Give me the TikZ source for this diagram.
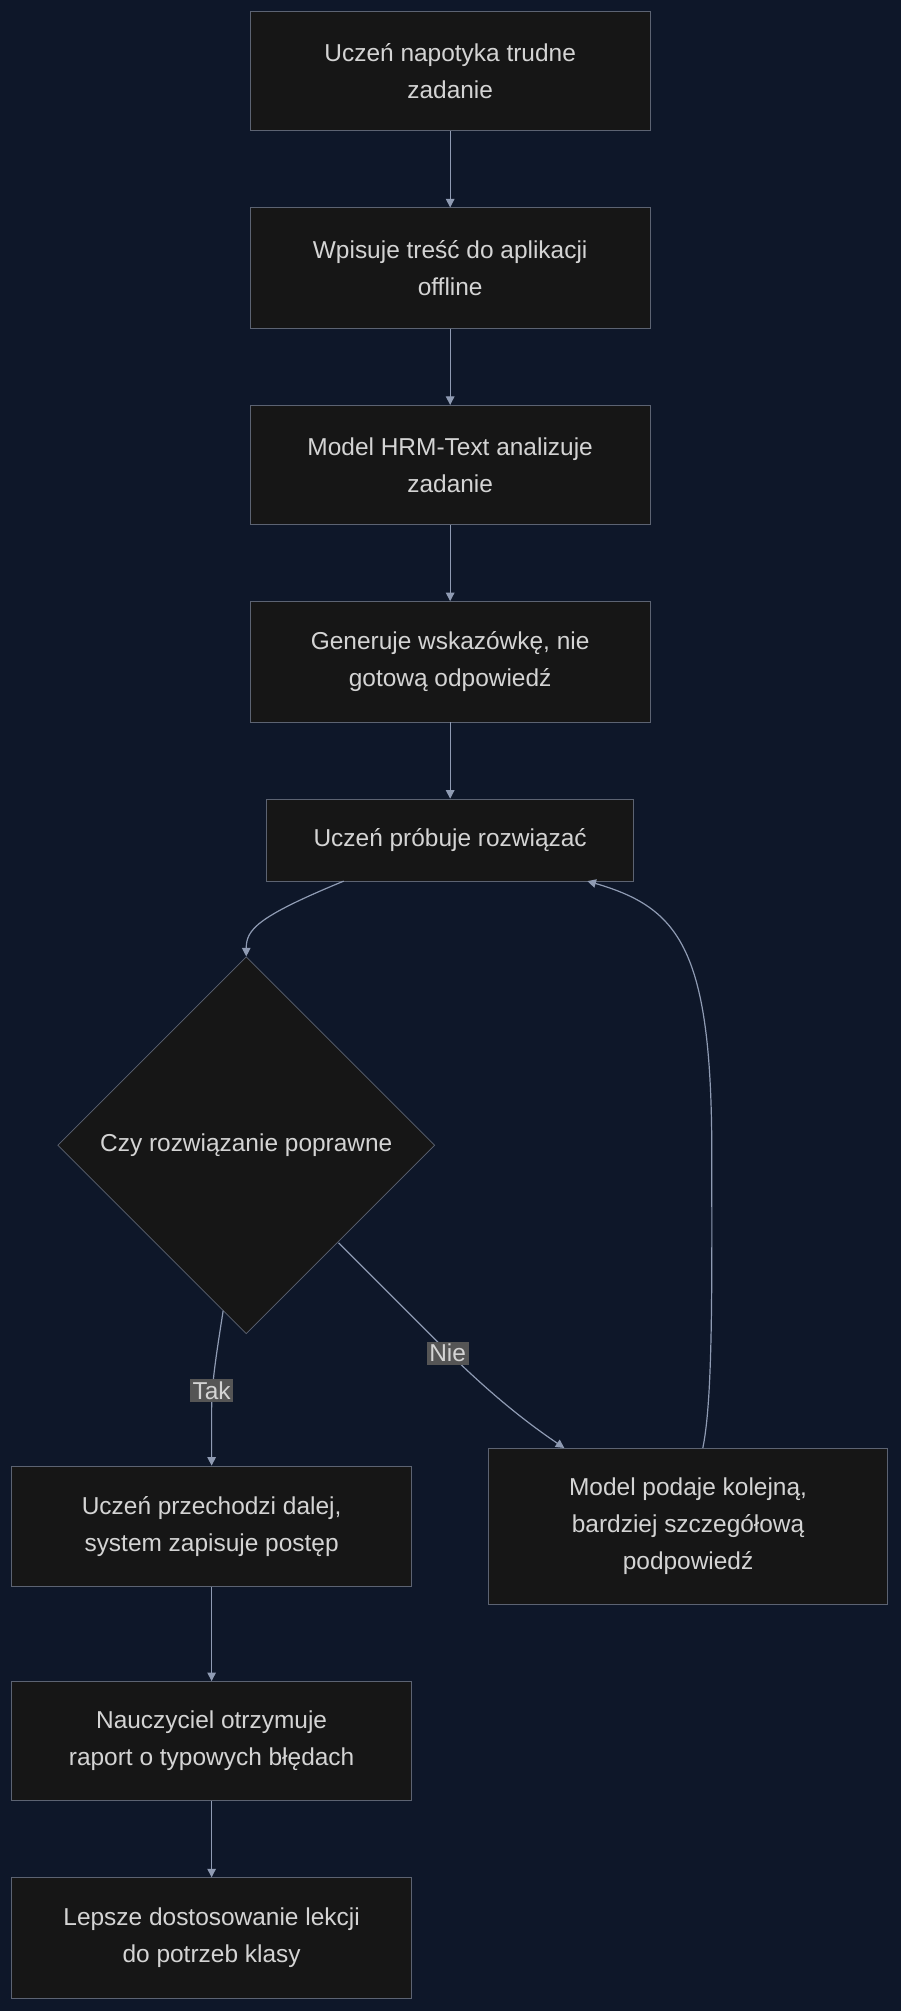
\documentclass[tikz,border=0pt]{standalone}
\usepackage{fontspec}
\setmainfont{Liberation Sans}
\usetikzlibrary{shapes.geometric,arrows.meta}
\definecolor{bg}{HTML}{0E1729}
\definecolor{boxfill}{HTML}{161616}
\definecolor{boxline}{HTML}{5C6372}
\definecolor{txt}{HTML}{D4D4D4}
\definecolor{arr}{HTML}{8F9BB3}
\definecolor{lbl}{HTML}{555555}
\begin{document}
\begin{tikzpicture}[x=0.75pt,y=-0.75pt,
  box/.style={draw=boxline,fill=boxfill,text=txt,font=\fontsize{14.3}{21.5}\selectfont,align=center,minimum width=312*0.75pt,inner sep=0pt},
  dia/.style={draw=boxline,fill=boxfill,text=txt,font=\fontsize{14.3}{21.5}\selectfont,diamond,minimum width=294*0.75pt,minimum height=294*0.75pt,inner sep=0pt},
  ar/.style={draw=arr,line width=0.7pt,-{Triangle[length=5pt,width=5pt]}},
  lab/.style={fill=lbl,text=txt,font=\fontsize{14.3}{16}\selectfont,inner sep=1.5pt}]
\useasboundingbox (0,0) rectangle (702,1568);
\fill[bg] (-5,-5) rectangle (707,1573);
\node[box,minimum height=93*0.75pt] (a) at (351,55.5) {Uczeń napotyka trudne\\zadanie};
\node[box,minimum height=94*0.75pt] (b) at (351,209) {Wpisuje treść do aplikacji\\offline};
\node[box,minimum height=93*0.75pt] (c) at (351,362.5) {Model HRM-Text analizuje\\zadanie};
\node[box,minimum height=94*0.75pt] (d) at (351,516) {Generuje wskazówkę, nie\\gotową odpowiedź};
\node[box,minimum width=286*0.75pt,minimum height=64*0.75pt] (e) at (351,655) {Uczeń próbuje rozwiązać};
\node[dia] (f) at (192,893) {Czy rozwiązanie poprawne};
\node[box,minimum height=94*0.75pt] (g) at (165,1190) {Uczeń przechodzi dalej,\\system zapisuje postęp};
\node[box,minimum width=311*0.75pt,minimum height=122*0.75pt] (h) at (536.5,1190) {Model podaje kolejną,\\bardziej szczegółową\\podpowiedź};
\node[box,minimum height=93*0.75pt] (i) at (165,1357.5) {Nauczyciel otrzymuje\\raport o typowych błędach};
\node[box,minimum height=94*0.75pt] (j) at (165,1511) {Lepsze dostosowanie lekcji\\do potrzeb klasy};
\draw[ar] (a) -- (b);
\draw[ar] (b) -- (c);
\draw[ar] (c) -- (d);
\draw[ar] (d) -- (e);
\draw[ar] (g) -- (i);
\draw[ar] (i) -- (j);
\coordinate (e1) at (268,687);
\draw[ar] (e1) .. controls (200,715) and (192,725) .. (f.north);
\coordinate (f1) at (174,1022);
\draw[ar] (f1) .. controls (168,1060) and (165,1080) .. (165,1100) -- (g.north);
\node[lab] at (165,1084) {Tak};
\coordinate (f2) at (264,969);
\coordinate (h1) at (440,1129);
\draw[ar] (f2) -- (340,1045) .. controls (370,1075) and (400,1102) .. (h1);
\node[lab] at (349,1055) {Nie};
\coordinate (h2) at (548,1129);
\coordinate (e2) at (458,687);
\draw[ar] (h2) .. controls (556,1090) and (555,1000) .. (555,900) .. controls (555,740) and (530,708) .. (e2);
\end{tikzpicture}
\end{document}
